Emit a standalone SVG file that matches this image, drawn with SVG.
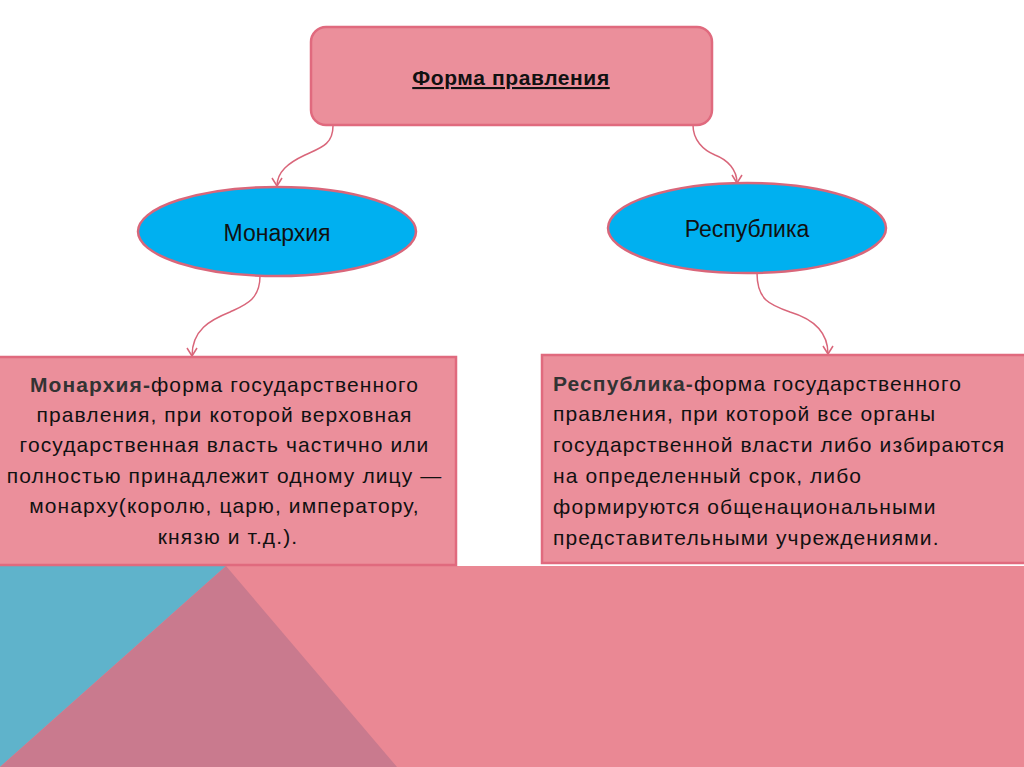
<svg xmlns="http://www.w3.org/2000/svg" width="1024" height="767" viewBox="0 0 1024 767">
<style>
.box{fill:#EB8F9B;stroke:#E06A7E;stroke-width:2.5}
.ell{fill:#00B0F0;stroke:#D9667A;stroke-width:2.5}
.con{fill:none;stroke:#D9667A;stroke-width:1.5}
.t{font-family:"Liberation Sans",Arial,sans-serif;fill:#111}
.body{font-size:21px;letter-spacing:1.1px}
</style>
<defs>
<marker id="arr" viewBox="-10 -6 12 12" markerWidth="12" markerHeight="12" refX="0" refY="0" orient="auto" markerUnits="userSpaceOnUse">
<path d="M-8,-5 L0,0 L-8,5" fill="none" stroke="#D9667A" stroke-width="1.5"/>
</marker>
</defs>
<rect width="1024" height="767" fill="#ffffff"/>
<g id="background">
<rect x="0" y="566" width="1024" height="201" fill="#EA8894"/>
<polygon points="0,566 226,566 0,767" fill="#5FB3CB"/>
<polygon points="226,566 397,767 0,767" fill="#C97A8E"/>
</g>
<g id="connectors">
<path class="con" marker-end="url(#arr)" d="M333,126 C333,145 320,148 305,155 C288,163 277,172 277,186"/>
<path class="con" marker-end="url(#arr)" d="M693,125 C693,140 703,150 715,155 C728,160 737,170 737,183"/>
<path class="con" marker-end="url(#arr)" d="M260,276 C260,300 245,305 230,312 C210,320 192,330 192,356"/>
<path class="con" marker-end="url(#arr)" d="M757,273 C757,300 770,305 790,312 C810,318 828,330 828,354"/>
</g>
<g id="forma">
<rect class="box" x="311" y="27" width="401" height="98" rx="15"/>
<text class="t" x="511" y="85" font-size="21" font-weight="bold" letter-spacing="0.6" text-anchor="middle" text-decoration="underline">Форма правления</text>
</g>
<g id="monarchy">
<ellipse class="ell" cx="277" cy="231.5" rx="139" ry="44.5"/>
<text class="t" x="277" y="241" font-size="23" text-anchor="middle">Монархия</text>
</g>
<g id="republic">
<ellipse class="ell" cx="747" cy="228" rx="139" ry="45"/>
<text class="t" x="747" y="237" font-size="23" text-anchor="middle">Республика</text>
</g>
<g id="monarchy-def">
<rect class="box" x="-3" y="357" width="459" height="208"/>
<text class="t body" text-anchor="middle">
<tspan x="228" y="392"><tspan font-weight="bold" fill="#333">Монархия-</tspan>форма государственного</tspan>
<tspan x="228" y="422">правления, при которой верховная</tspan>
<tspan x="228" y="452">государственная власть частично или</tspan>
<tspan x="228" y="483">полностью принадлежит одному лицу —</tspan>
<tspan x="228" y="513">монарху(королю, царю, императору,</tspan>
<tspan x="228" y="544">князю и т.д.).</tspan>
</text>
</g>
<g id="republic-def">
<rect class="box" x="542" y="355" width="485" height="208"/>
<text class="t body">
<tspan x="553" y="391"><tspan font-weight="bold" fill="#333">Республика-</tspan>форма государственного</tspan>
<tspan x="553" y="421">правления, при которой все органы</tspan>
<tspan x="553" y="452">государственной власти либо избираются</tspan>
<tspan x="553" y="483">на определенный срок, либо</tspan>
<tspan x="553" y="514">формируются общенациональными</tspan>
<tspan x="553" y="545">представительными учреждениями.</tspan>
</text>
</g>
</svg>
